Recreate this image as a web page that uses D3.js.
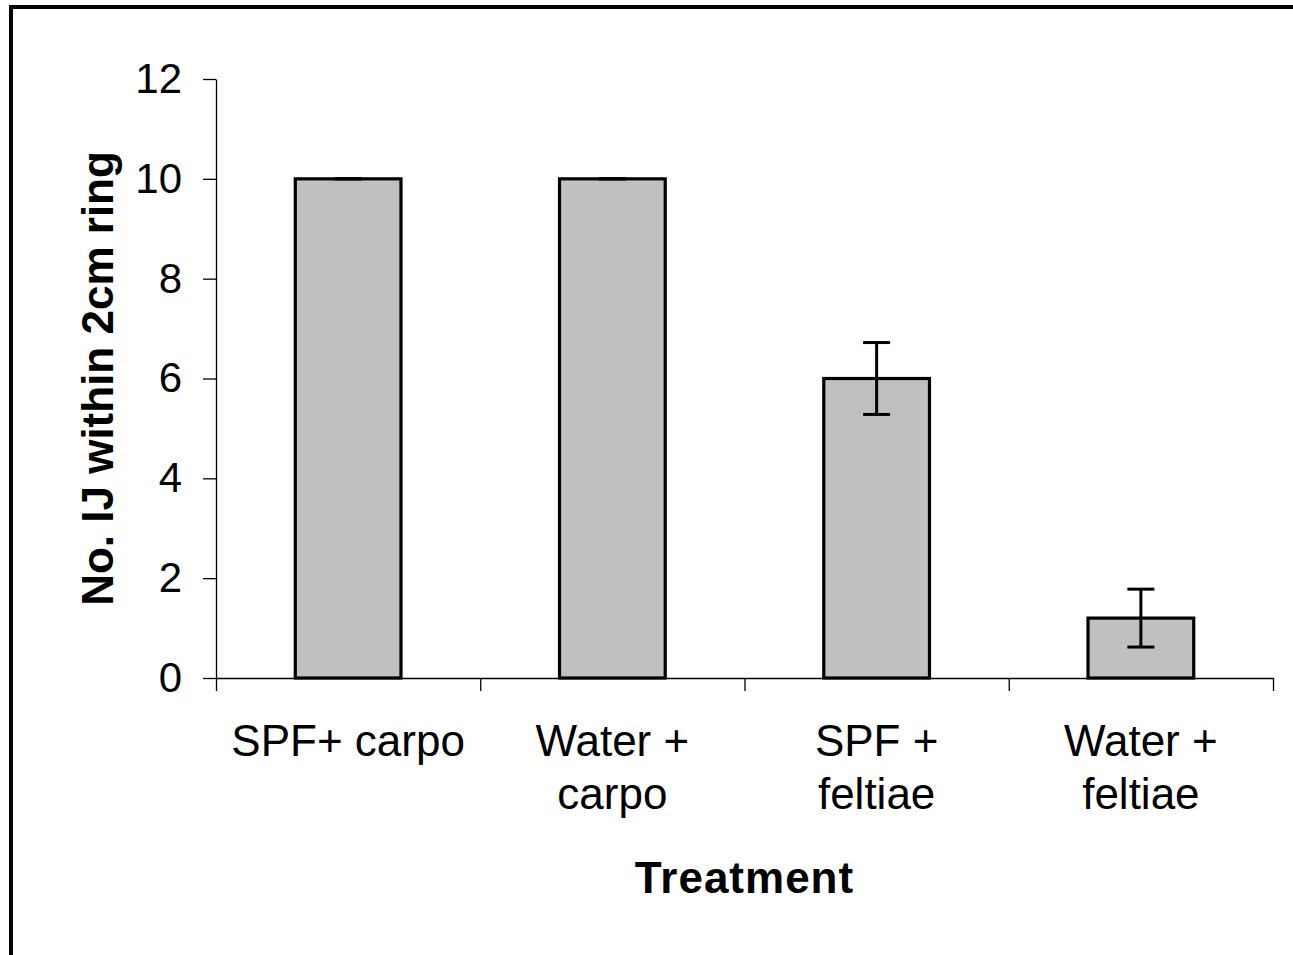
<!DOCTYPE html>
<html>
<head>
<meta charset="utf-8">
<script src="https://cdn.jsdelivr.net/npm/d3@7"></script>
<style>
  html, body { margin: 0; padding: 0; background: #fff; overflow: hidden; }
  svg { display: block; font-family: "Liberation Sans", Arial, Helvetica, sans-serif; }
</style>
</head>
<body>
<svg id="chart" width="1293" height="955"></svg>
<script>
// categories (split in lines the way the labels wrap)
const categories = ["SPF+ carpo", "Water + carpo", "SPF + feltiae", "Water + feltiae"];
const categoryLines = [["SPF+ carpo"], ["Water +", "carpo"], ["SPF +", "feltiae"], ["Water +", "feltiae"]];
const means = [10, 10, 6.0, 1.2];
const errors = [0, 0, 0.72, 0.58];
const yTicks = [0, 2, 4, 6, 8, 10, 12];

const svg = d3.select("#chart");

const plot = {left: 216, right: 1273, top: 79, bottom: 678};

// outer frame, cut off at right and bottom like the reference
svg.append("rect")
  .attr("x", 11).attr("y", 7)
  .attr("width", 1300).attr("height", 1000)
  .attr("fill", "none")
  .attr("stroke", "#000")
  .attr("stroke-width", 4);

const x = d3.scaleBand()
  .domain(categories)
  .range([plot.left, plot.right])
  .padding(0);

// linear helper so the category boundary ticks come from an axis
const xEdges = d3.scaleLinear()
  .domain([0, categories.length])
  .range([plot.left, plot.right]);

const y = d3.scaleLinear()
  .domain([0, 12])
  .range([plot.bottom, plot.top]);

// Y axis
svg.append("g")
  .attr("class", "yaxis")
  .attr("transform", `translate(${plot.left},0)`)
  .call(d3.axisLeft(y).tickValues(yTicks).tickSize(13).tickPadding(21).tickSizeOuter(0))
  .call(g => g.selectAll("line, path").attr("stroke", "#000").attr("stroke-width", 1.3))
  .call(g => g.selectAll("text")
    .attr("fill", "#000")
    .style("font-size", "42px"));

// X axis with ticks between categories
svg.append("g")
  .attr("class", "xaxis")
  .attr("transform", `translate(0,${plot.bottom})`)
  .call(d3.axisBottom(xEdges).ticks(categories.length).tickSize(13).tickSizeOuter(0).tickFormat(""))
  .call(g => g.selectAll("line, path").attr("stroke", "#000").attr("stroke-width", 1.3));

const barWidth = x.bandwidth() / 2.5;
const cx = c => x(c) + x.bandwidth() / 2;

// bars
svg.selectAll("rect.bar")
  .data(categories)
  .enter()
  .append("rect")
    .attr("class", "bar")
    .attr("x", c => cx(c) - barWidth / 2)
    .attr("y", (c, i) => y(means[i]))
    .attr("width", barWidth)
    .attr("height", (c, i) => y(0) - y(means[i]))
    .attr("fill", "#C0C0C0")
    .attr("stroke", "#000")
    .attr("stroke-width", 3.2);

// error bars
const capW = 27;
const err = svg.selectAll("g.err")
  .data(categories)
  .enter()
  .append("g")
    .attr("class", "err")
    .attr("stroke", "#000")
    .attr("stroke-width", 3);

err.append("line")
  .attr("x1", c => cx(c)).attr("x2", c => cx(c))
  .attr("y1", (c, i) => y(means[i] + errors[i]))
  .attr("y2", (c, i) => y(means[i] - errors[i]));
err.append("line")
  .attr("x1", c => cx(c) - capW / 2).attr("x2", c => cx(c) + capW / 2)
  .attr("y1", (c, i) => y(means[i] + errors[i]))
  .attr("y2", (c, i) => y(means[i] + errors[i]));
err.append("line")
  .attr("x1", c => cx(c) - capW / 2).attr("x2", c => cx(c) + capW / 2)
  .attr("y1", (c, i) => y(means[i] - errors[i]))
  .attr("y2", (c, i) => y(means[i] - errors[i]));

// category labels
const labels = svg.selectAll("text.cat")
  .data(categories)
  .enter()
  .append("text")
    .attr("class", "cat")
    .attr("text-anchor", "middle")
    .attr("fill", "#000")
    .style("font-size", "44px");

labels.selectAll("tspan")
  .data((c, i) => categoryLines[i].map(l => ({c, l})))
  .enter()
  .append("tspan")
    .attr("x", d => cx(d.c))
    .attr("y", (d, j) => 756 + j * 53)
    .text(d => d.l);

// axis titles
svg.append("text")
  .attr("x", (plot.left + plot.right) / 2)
  .attr("y", 893)
  .attr("text-anchor", "middle")
  .style("font-size", "44px")
  .style("font-weight", "bold")
  .style("letter-spacing", "1px")
  .text("Treatment");

svg.append("text")
  .attr("transform", `translate(113,${(plot.top + plot.bottom) / 2}) rotate(-90)`)
  .attr("text-anchor", "middle")
  .style("font-size", "44px")
  .style("font-weight", "bold")
  .text("No. IJ within 2cm ring");
</script>
</body>
</html>
